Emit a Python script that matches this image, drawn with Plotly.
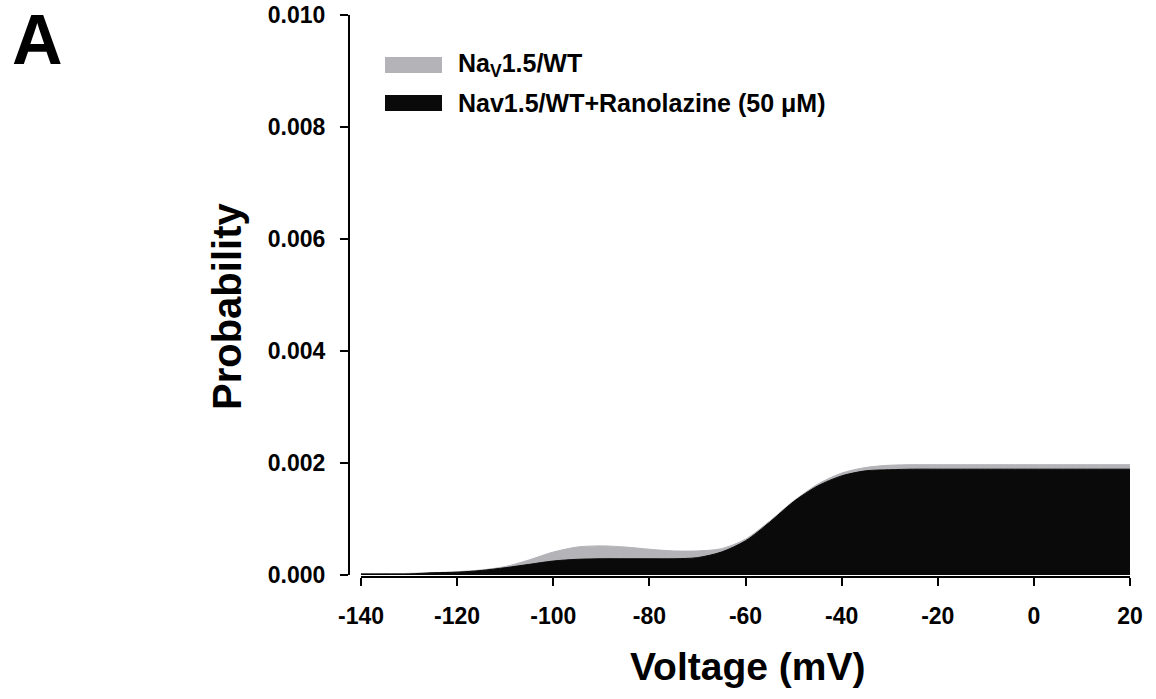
import plotly.graph_objects as go

W, H = 1156, 699

voltage = [-140, -135, -130, -125, -120, -115, -110, -105, -100, -95, -90, -85, -80,
           -75, -70, -65, -60, -55, -50, -45, -40, -35, -30, -25, -20, -15, -10,
           -5, 0, 5, 10, 15, 20]

prob_wt = [0.00002, 0.00002, 0.00003, 0.00004, 0.00006, 0.00009, 0.00015, 0.00027,
           0.00041, 0.00050, 0.00052, 0.00050, 0.00046, 0.00043, 0.00043, 0.00047,
           0.00064, 0.00096, 0.00132, 0.00162, 0.00182, 0.00192, 0.00196, 0.00197,
           0.00197, 0.00197, 0.00197, 0.00197, 0.00197, 0.00197, 0.00197, 0.00197,
           0.00197]

prob_rano = [0.00002, 0.00002, 0.00002, 0.00004, 0.00005, 0.00008, 0.00013, 0.00019,
             0.00025, 0.00028, 0.00029, 0.00029, 0.00029, 0.00029, 0.00031, 0.00041,
             0.00061, 0.00094, 0.00131, 0.00159, 0.00177, 0.00186, 0.00188, 0.00189,
             0.00189, 0.00189, 0.00189, 0.00189, 0.00189, 0.00189, 0.00189, 0.00189,
             0.00189]

series_names = ["Na<sub>V</sub>1.5/WT", "Nav1.5/WT+Ranolazine (50 \u03bcM)"]
x_ticks = [-140, -120, -100, -80, -60, -40, -20, 0, 20]
y_ticks = [0.000, 0.002, 0.004, 0.006, 0.008, 0.010]

GRAY = "#b3b3b8"
BLACK = "#0a0a0a"
FONT = "Arial, Liberation Sans, sans-serif"

fig = go.Figure()
fig.add_trace(go.Scatter(x=voltage, y=prob_wt, mode="lines",
                         line=dict(color=GRAY, width=1, shape="spline", smoothing=0.8),
                         fill="tozeroy", fillcolor=GRAY, name=series_names[0], showlegend=False))
fig.add_trace(go.Scatter(x=voltage, y=prob_rano, mode="lines",
                         line=dict(color=BLACK, width=1, shape="spline", smoothing=0.8),
                         fill="tozeroy", fillcolor=BLACK, name=series_names[1], showlegend=False))

x0, x1 = 361 / W, 1130 / W
yb, yt = 1 - 575 / H, 1 - 15 / H

fig.update_layout(
    template="none",
    width=W, height=H, margin=dict(l=0, r=0, t=0, b=0, autoexpand=False),
    paper_bgcolor="white", plot_bgcolor="white",
    font=dict(family=FONT, color="black"),
    xaxis=dict(domain=[x0, x1], range=[-140, 20], tickvals=x_ticks,
               ticktext=[str(v) for v in x_ticks], automargin=False,
               showline=True, linecolor="black", linewidth=2, ticks="outside", ticklen=8,
               tickwidth=2, tickcolor="black", showgrid=False, zeroline=False,
               tickfont=dict(size=23, weight="bold", family=FONT, color="black"),
               ticklabelstandoff=10, anchor="free", position=1 - 577 / H),
    yaxis=dict(domain=[yb, yt], range=[0, 0.010], tickvals=y_ticks, tickformat=".3f",
               automargin=False,
               showline=True, linecolor="black", linewidth=2, ticks="outside", ticklen=8,
               tickwidth=2, tickcolor="black", showgrid=False, zeroline=False,
               tickfont=dict(size=23, weight="bold", family=FONT, color="black"),
               ticklabelstandoff=10, anchor="free", position=349 / W),
)

# legend drawn manually
leg = [(65, GRAY, series_names[0]), (103, BLACK, series_names[1])]
for yc, col, txt in leg:
    fig.add_shape(type="rect", xref="paper", yref="paper",
                  x0=385 / W, x1=442 / W, y0=1 - (yc + 8) / H, y1=1 - (yc - 8) / H,
                  fillcolor=col, line=dict(width=0))
    fig.add_annotation(xref="paper", yref="paper", x=456 / W, y=1 - yc / H, text=txt,
                       showarrow=False, xanchor="left", yanchor="middle",
                       font=dict(size=25, weight="bold", family=FONT, color="black"))

fig.add_annotation(xref="paper", yref="paper", x=227 / W, y=1 - 307 / H, text="Probability",
                   textangle=-90, showarrow=False, xanchor="center", yanchor="middle",
                   font=dict(size=40, weight="bold", family=FONT, color="black"))
fig.add_annotation(xref="paper", yref="paper", x=747 / W, y=1 - 666 / H, text="Voltage (mV)",
                   showarrow=False, xanchor="center", yanchor="middle",
                   font=dict(size=39, weight="bold", family=FONT, color="black"))
fig.add_annotation(xref="paper", yref="paper", x=37 / W, y=1 - 40 / H, text="A",
                   showarrow=False, xanchor="center", yanchor="middle",
                   font=dict(size=70, weight="bold", family=FONT, color="black"))

fig.write_html("out.html")
